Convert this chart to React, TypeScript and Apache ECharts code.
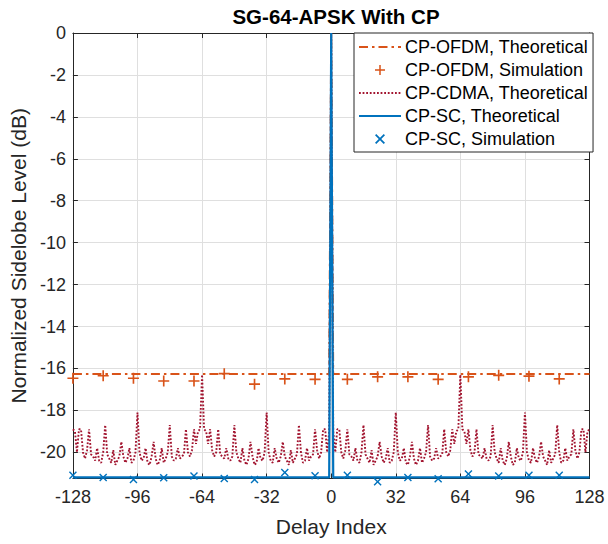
import React, { useEffect, useRef } from "react";
import * as echarts from "echarts";

const titleText = "SG-64-APSK With CP";
const xName = "Delay Index";
const yName = "Normalized Sidelobe Level (dB)";
const legendNames = [
  "CP-OFDM, Theoretical",
  "CP-OFDM, Simulation",
  "CP-CDMA, Theoretical",
  "CP-SC, Theoretical",
  "CP-SC, Simulation",
];

const xMin = -128;
const xMax = 128;
const xInterval = 32;
const yMin = -21.25;
const yMax = 0;

const simDelays = [-128, -113, -98, -83, -68, -53, -38, -23, -8, 8, 23, 38, 53, 68, 83, 98, 113];
const ofdmSim = [-16.47, -16.35, -16.47, -16.6, -16.6, -16.25, -16.75, -16.5, -16.52, -16.52, -16.4, -16.4, -16.52, -16.4, -16.33, -16.37, -16.5];
const scSim = [-21.09, -21.2, -21.3, -21.22, -21.13, -21.25, -21.3, -20.96, -21.12, -21.09, -21.4, -21.2, -21.26, -21.04, -21.13, -21.09, -21.09];

const theoDelays = [-128, -1, 0, 1, 128];
const ofdmTheory = [-16.27, -16.27, 0, -16.27, -16.27];
const scTheory = [-21.2, -21.2, 0, -21.2, -21.2];

// CP-CDMA theoretical, delays -128 .. 128
const cdmaTheory = [
  -18.9,
  -19.0, -20.0, -18.9, -18.9, -20.0, -20.3, -19.9, -18.9,
  -20.1, -20.2, -20.4, -19.8, -20.4, -20.5, -20.0, -18.7,
  -20.1, -20.3, -20.5, -19.9, -20.6, -20.4, -20.2, -19.5,
  -20.2, -20.5, -20.3, -19.8, -20.5, -20.4, -20.0, -18.1,
  -20.0, -20.4, -20.3, -19.8, -20.5, -20.6, -20.2, -19.5,
  -20.3, -20.6, -20.4, -19.8, -20.5, -20.3, -20.0, -18.7,
  -20.2, -20.4, -20.3, -19.8, -20.3, -20.2, -20.1, -18.9,
  -20.0, -20.2, -19.9, -18.9, -19.6, -19.0, -18.9,
  -16.3,
  -18.9, -19.0, -19.6, -18.9, -19.9, -20.2, -20.0,
  -18.9, -20.1, -20.2, -20.3, -19.8, -20.3, -20.4, -20.2,
  -18.7, -20.0, -20.3, -20.5, -19.8, -20.4, -20.6, -20.3,
  -19.5, -20.2, -20.6, -20.5, -19.8, -20.3, -20.4, -20.0,
  -18.1, -20.0, -20.4, -20.5, -19.8, -20.3, -20.5, -20.2,
  -19.5, -20.2, -20.4, -20.6, -19.9, -20.5, -20.3, -20.1,
  -18.7, -20.0, -20.5, -20.4, -19.8, -20.4, -20.2, -20.1,
  -18.9, -19.9, -20.3, -20.0, -18.9, -18.9, -20.0, -19.0,
  0,
  -19.0, -20.0, -18.9, -18.9, -20.0, -20.3, -19.9, -18.9,
  -20.1, -20.2, -20.4, -19.8, -20.4, -20.5, -20.0, -18.7,
  -20.1, -20.3, -20.5, -19.9, -20.6, -20.4, -20.2, -19.5,
  -20.2, -20.5, -20.3, -19.8, -20.5, -20.4, -20.0, -18.1,
  -20.0, -20.4, -20.3, -19.8, -20.5, -20.6, -20.2, -19.5,
  -20.3, -20.6, -20.4, -19.8, -20.5, -20.3, -20.0, -18.7,
  -20.2, -20.4, -20.3, -19.8, -20.3, -20.2, -20.1, -18.9,
  -20.0, -20.2, -19.9, -18.9, -19.6, -19.0, -18.9,
  -16.3,
  -18.9, -19.0, -19.6, -18.9, -19.9, -20.2, -20.0,
  -18.9, -20.1, -20.2, -20.3, -19.8, -20.3, -20.4, -20.2,
  -18.7, -20.0, -20.3, -20.5, -19.8, -20.4, -20.6, -20.3,
  -19.5, -20.2, -20.6, -20.5, -19.8, -20.3, -20.4, -20.0,
  -18.1, -20.0, -20.4, -20.5, -19.8, -20.3, -20.5, -20.2,
  -19.5, -20.2, -20.4, -20.6, -19.9, -20.5, -20.3, -20.1,
  -18.7, -20.0, -20.5, -20.4, -19.8, -20.4, -20.2, -20.1,
  -18.9, -19.9, -20.3, -20.0, -18.9, -18.9, -20.0, -19.0,
  -18.9,
];

const COLORS = {
  ofdm: "#D95319",
  cdma: "#A2142F",
  sc: "#0072BD",
  text: "#262626",
  grid: "#dfdfdf",
};
const FONT = "'Liberation Sans', Arial, Helvetica, sans-serif";

const PLUS = "path://M10.2,0 H13.8 V10.2 H24 V13.8 H13.8 V24 H10.2 V13.8 H0 V10.2 H10.2 Z";
const CROSS = "path://M0,2.5 L2.5,0 L10,7.5 L17.5,0 L20,2.5 L12.5,10 L20,17.5 L17.5,20 L10,12.5 L2.5,20 L0,17.5 L7.5,10 Z";

const hiddenIcon = { color: "rgba(0,0,0,0)", borderColor: "rgba(0,0,0,0)", borderWidth: 0 };

export default function App() {
  const ref = useRef<HTMLDivElement>(null);

  useEffect(() => {
    document.body.style.margin = "0";
    if (!ref.current) return;
    const chart = echarts.init(ref.current, null, { renderer: "svg" });

    const cdmaData = cdmaTheory.map((v, i) => [xMin + i, v]);
    const pair = (xs: number[], ys: number[]) => xs.map((x, i) => [x, ys[i]]);

    const yLabelFmt = (v: number) => (Math.abs(v % 2) < 1e-6 ? String(Math.round(v)) : "");

    chart.setOption({
      animation: false,
      backgroundColor: "#ffffff",
      textStyle: { fontFamily: FONT },
      title: {
        text: titleText,
        left: 331,
        top: 1,
        textAlign: "center",
        textStyle: { fontFamily: FONT, fontSize: 20.5, fontWeight: "bold", color: "#000" },
      },
      grid: { left: 72, right: 18.5, top: 33, bottom: 65.5, containLabel: false },
      legend: {
        orient: "vertical",
        left: 354,
        top: 33,
        padding: [5, 5, 4, 4],
        itemWidth: 42,
        itemHeight: 10,
        itemGap: 5,
        backgroundColor: "#ffffff",
        borderColor: COLORS.text,
        borderWidth: 1,
        borderRadius: 0,
        selectedMode: false,
        textStyle: { fontFamily: FONT, fontSize: 18, color: "#000", lineHeight: 18, padding: [0, 0, 0, -1] },
        data: [
          { name: legendNames[0], itemStyle: hiddenIcon },
          { name: legendNames[1] },
          { name: legendNames[2], itemStyle: hiddenIcon },
          { name: legendNames[3], itemStyle: hiddenIcon },
          { name: legendNames[4] },
        ],
      },
      xAxis: [
        {
          type: "value",
          min: xMin,
          max: xMax,
          interval: xInterval,
          name: xName,
          nameLocation: "middle",
          nameGap: 37,
          nameTextStyle: { fontFamily: FONT, fontSize: 21, color: COLORS.text },
          axisLine: { show: true, onZero: false, lineStyle: { color: COLORS.text, width: 1 } },
          axisTick: { show: true, inside: true, length: 5, lineStyle: { color: COLORS.text } },
          axisLabel: { fontFamily: FONT, fontSize: 18, color: COLORS.text, margin: 9 },
          splitLine: { show: true, lineStyle: { color: COLORS.grid, width: 1 } },
        },
        {
          type: "value",
          position: "top",
          min: xMin,
          max: xMax,
          interval: xInterval,
          axisLine: { show: true, onZero: false, lineStyle: { color: COLORS.text, width: 1 } },
          axisTick: { show: true, inside: true, length: 5, lineStyle: { color: COLORS.text } },
          axisLabel: { show: false },
          splitLine: { show: false },
        },
      ],
      yAxis: [
        {
          type: "value",
          min: yMin,
          max: yMax,
          splitNumber: 11,
          name: yName,
          nameLocation: "middle",
          nameGap: 40,
          nameTextStyle: { fontFamily: FONT, fontSize: 21, color: COLORS.text },
          axisLine: { show: true, onZero: false, lineStyle: { color: COLORS.text, width: 1 } },
          axisTick: { show: true, inside: true, length: 5, lineStyle: { color: COLORS.text } },
          axisLabel: { fontFamily: FONT, fontSize: 18, color: COLORS.text, margin: 7, formatter: yLabelFmt, showMinLabel: false },
          splitLine: { show: true, lineStyle: { color: COLORS.grid, width: 1 } },
        },
        {
          type: "value",
          position: "right",
          min: yMin,
          max: yMax,
          splitNumber: 11,
          axisLine: { show: true, onZero: false, lineStyle: { color: COLORS.text, width: 1 } },
          axisTick: { show: true, inside: true, length: 5, lineStyle: { color: COLORS.text } },
          axisLabel: { show: false },
          splitLine: { show: false },
        },
      ],
      series: [
        {
          name: legendNames[0],
          type: "line",
          data: pair(theoDelays, ofdmTheory),
          symbol: "none",
          showSymbol: false,
          itemStyle: { color: COLORS.ofdm },
          lineStyle: { color: COLORS.ofdm, width: 2, type: [9, 4, 2.5, 4] },
          z: 3,
        },
        {
          name: legendNames[1],
          type: "scatter",
          data: pair(simDelays, ofdmSim),
          symbol: PLUS,
          symbolSize: 11,
          symbolKeepAspect: true,
          itemStyle: { color: COLORS.ofdm, opacity: 1 },
          clip: false,
          z: 4,
        },
        {
          name: legendNames[2],
          type: "line",
          data: cdmaData,
          symbol: "none",
          showSymbol: false,
          itemStyle: { color: COLORS.cdma },
          lineStyle: { color: COLORS.cdma, width: 1.9, type: [1.8, 1.8] },
          z: 2,
        },
        {
          name: legendNames[3],
          type: "line",
          data: pair(theoDelays, scTheory),
          symbol: "none",
          showSymbol: false,
          itemStyle: { color: COLORS.sc },
          lineStyle: { color: COLORS.sc, width: 2.2, type: "solid" },
          z: 5,
        },
        {
          name: legendNames[4],
          type: "scatter",
          data: pair(simDelays, scSim),
          symbol: CROSS,
          symbolSize: 8,
          symbolKeepAspect: true,
          itemStyle: { color: COLORS.sc, opacity: 1 },
          clip: false,
          z: 6,
        },
      ],
    });

    return () => chart.dispose();
  }, []);

  return (
    <div
      ref={ref}
      style={{ position: "absolute", left: 0, top: 0, width: 608, height: 544 }}
    />
  );
}
